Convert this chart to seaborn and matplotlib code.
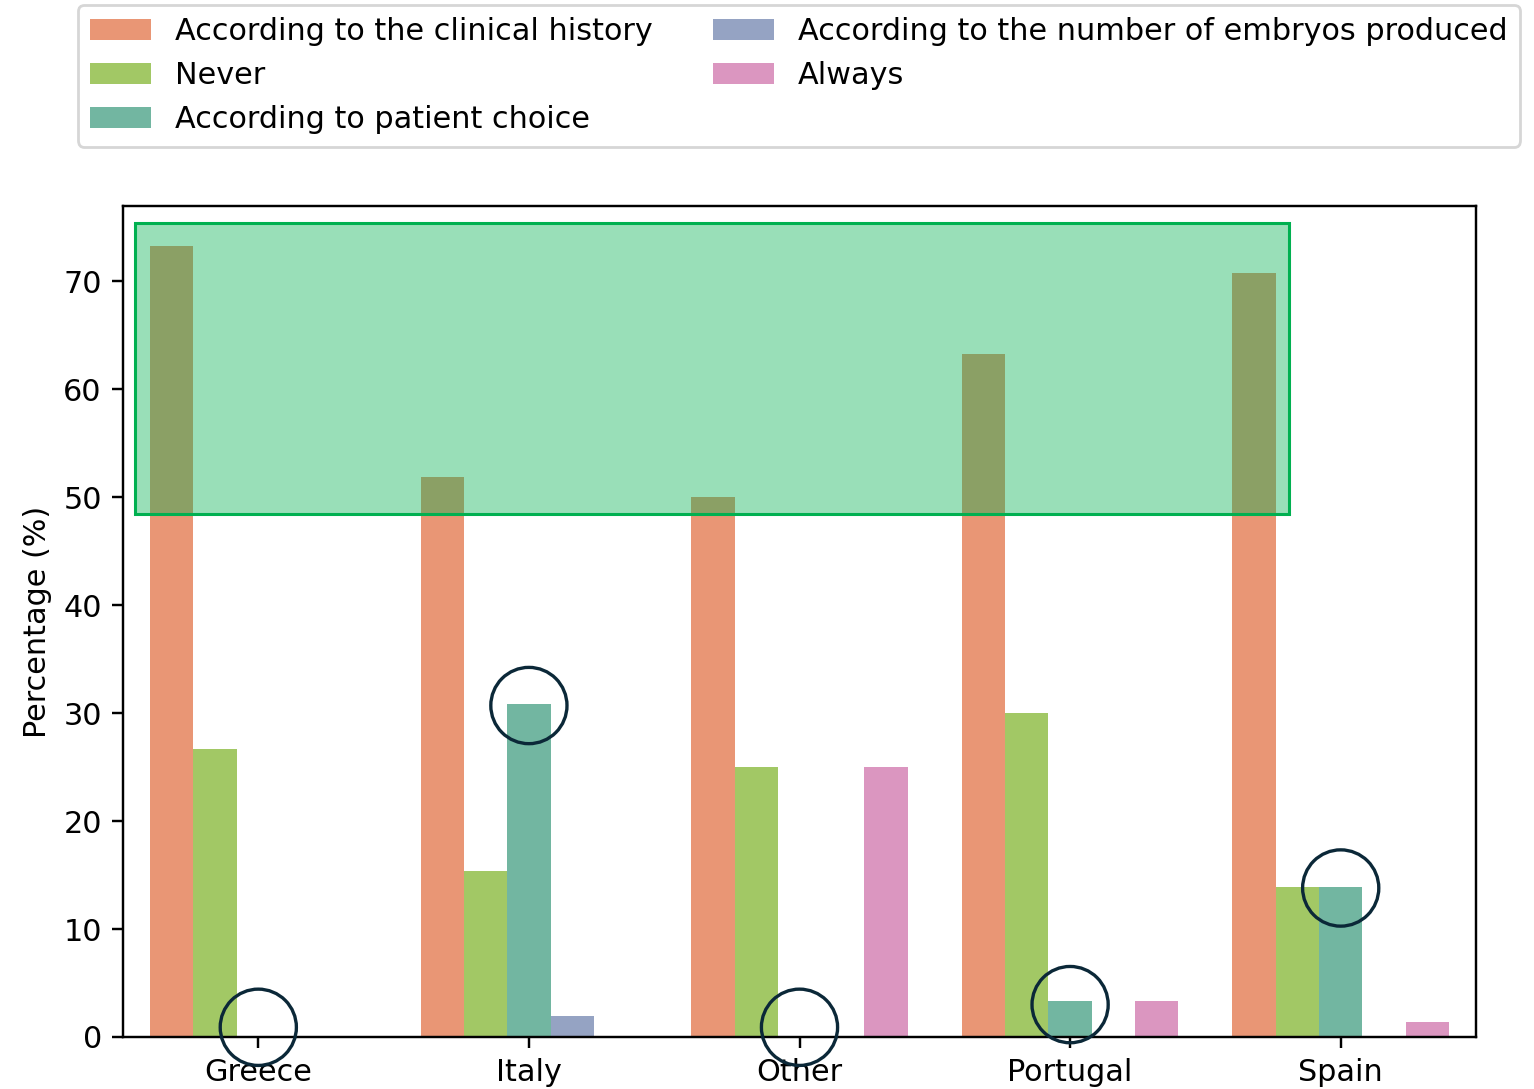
import matplotlib
matplotlib.use("Agg")
import matplotlib.pyplot as plt
import matplotlib.patches as mpatches
import seaborn as sns
import pandas as pd

countries = ["Greece", "Italy", "Other", "Portugal", "Spain"]
responses = [
    "According to the clinical history",
    "Never",
    "According to patient choice",
    "According to the number of embryos produced",
    "Always",
]
clinical_history = [73.3, 51.9, 50.0, 63.3, 70.8]
never = [26.7, 15.4, 25.0, 30.0, 13.9]
patient_choice = [0.0, 30.8, 0.0, 3.3, 13.9]
embryos_produced = [0.0, 1.9, 0.0, 0.0, 0.0]
always = [0.0, 0.0, 25.0, 3.3, 1.4]

series = [clinical_history, never, patient_choice, embryos_produced, always]
rows = []
for resp, vals in zip(responses, series):
    for c, v in zip(countries, vals):
        rows.append({"Country": c, "Response": resp, "Percentage": v})
df = pd.DataFrame(rows)

set2 = sns.color_palette("Set2")
palette = {
    responses[0]: set2[1],
    responses[1]: set2[4],
    responses[2]: set2[0],
    responses[3]: set2[2],
    responses[4]: set2[3],
}

# highlight box and circled spots (data coords)
highlight_x = (-0.455, 3.81)
highlight_y = (48.4, 75.4)
circle_x = [0, 1, 2, 3, 4]
circle_y = [0.9, 30.7, 0.9, 3.0, 13.8]

s = 1.09
plt.rcParams.update({
    "font.size": 10 * s,
    "xtick.major.size": 3.5 * s,
    "ytick.major.size": 3.5 * s,
    "xtick.major.pad": 3.5 * s,
    "ytick.major.pad": 3.5 * s,
    "axes.linewidth": 0.8 * s,
    "xtick.major.width": 0.8 * s,
    "ytick.major.width": 0.8 * s,
})

W, H = 1534, 1089
dpi = 200
fig = plt.figure(figsize=(W / dpi, H / dpi), dpi=dpi)
ax = fig.add_axes([123 / W, 1 - 1037 / H, (1476 - 123) / W, (1037 - 206) / H])

sns.barplot(data=df, x="Country", y="Percentage", hue="Response",
            hue_order=responses, order=countries, palette=palette, ax=ax)

ax.set_xlabel("")
ax.set_ylabel("Percentage (%)")

handles, labels = ax.get_legend_handles_labels()
ax.get_legend().remove()
fig.legend(handles, labels, ncol=2, loc="upper left",
           bbox_to_anchor=(78 / W, 1 - 5 / H), borderaxespad=0, fontsize=10 * s)

rect = mpatches.Rectangle((highlight_x[0], highlight_y[0]),
                          highlight_x[1] - highlight_x[0],
                          highlight_y[1] - highlight_y[0],
                          facecolor=(0.0, 0.69, 0.31, 0.4),
                          edgecolor="#00B050", linewidth=1.1, zorder=5)
ax.add_patch(rect)

cw = 76 / 270
ch = 76 / ((1037 - 284) / 70)
for cx, cy in zip(circle_x, circle_y):
    ax.add_patch(mpatches.Ellipse((cx, cy), cw, ch, fill=False,
                                  edgecolor="#0B2838", linewidth=1.2,
                                  zorder=6, clip_on=False))

fig.savefig("out.png", dpi=dpi)
